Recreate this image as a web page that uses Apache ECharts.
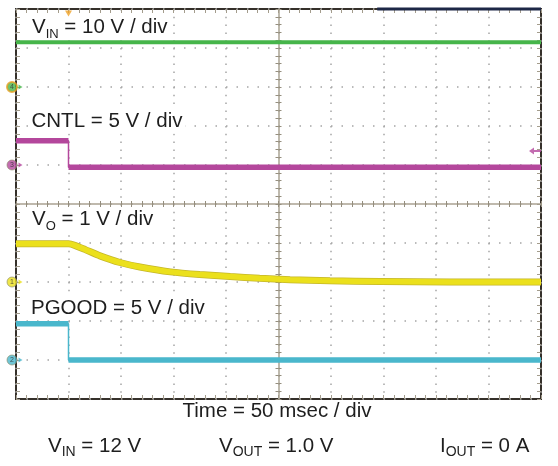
<!DOCTYPE html>
<html><head><meta charset="utf-8">
<script src="https://cdn.jsdelivr.net/npm/echarts@6/dist/echarts.min.js"></script>
<style>html,body{margin:0;padding:0;background:#fff}#c{width:558px;height:466px}</style>
</head><body><div id="c"></div>
<script>
// ---------------- data ----------------
// time axis: 50 ms / div, trigger at 0 ms, 10 divisions
const timeMin = -50, timeMax = 450, timePerDiv = 50;
// channels: order = VIN (ch4), CNTL (ch3), VO (ch1), PGOOD (ch2)
const channelNames  = ['4', '3', '1', '2'];
const channelScale  = [10, 5, 1, 5];      // V / div
const channelGround = [3, 1, -2, -4];     // ground marker, divisions from centre
const channelColors = ['#46b54a', '#b4479c', '#ebe01c', '#4ab7cc'];

const vinTime   = [-50, 450];
const vinVolts  = [11.5, 11.5];
const cntlTime  = [-50, 0, 0, 450];
const cntlVolts = [3.1, 3.1, -0.3, -0.3];
const voTime    = [-50, 0, 6, 16, 30, 49, 68, 97, 125, 154, 182, 211, 249, 297, 363, 450];
const voVolts   = [0.98, 0.98, 0.94, 0.83, 0.67, 0.50, 0.385, 0.26, 0.19, 0.14, 0.095, 0.06, 0.03, 0.015, 0.0, 0.0];
const pgoodTime  = [-50, 0, 0, 450];
const pgoodVolts = [4.65, 4.65, 0, 0];
const triggerTime = 0;
const triggerLevelVolts = 1.8;            // on CNTL
const recordBarTime = [294, 450];

const labelTexts = ['{m|V}{s|IN}{m| = 10 V / div}', '{m|CNTL = 5 V / div}', '{m|V}{s|O}{m| = 1 V / div}', '{m|PGOOD = 5 V / div}'];
const timeText = 'Time = 50 msec / div';
const footTexts = ['{m|V}{s|IN}{m| = 12 V}', '{m|V}{s|OUT}{m| = 1.0 V}', '{m|I}{s|OUT}{m| = 0 A}'];

// ---------------- helpers ----------------
const FF = '"Liberation Sans", Arial, Helvetica, sans-serif';
const TXT = '#1e1e1e';
function toDiv(ch, v) { return channelGround[ch] + v / channelScale[ch]; }
function full(times, volts, ch) { return times.map((t, i) => [t, toDiv(ch, volts[i])]); }
function thick(times, volts, ch) {
  const out = [];
  times.forEach((t, i) => {
    if (i > 0 && t === times[i - 1]) out.push([t, '-']);
    out.push([t, toDiv(ch, volts[i])]);
  });
  return out;
}
function richStyle(mainSize, subSize, pad) {
  return {
    m: { fontSize: mainSize, fontFamily: FF, fill: TXT, lineHeight: 24, verticalAlign: 'middle' },
    s: { fontSize: subSize, fontFamily: FF, fill: TXT, lineHeight: 24, verticalAlign: 'top', padding: [pad, 0, 0, 0] }
  };
}

const tickCol = '#a39c8c';
function xAx(extra) {
  return Object.assign({
    type: 'value', min: timeMin, max: timeMax, interval: timePerDiv,
    axisLabel: { show: false }, splitLine: { show: false },
    axisLine: { show: false, onZero: false },
    axisTick: { show: true, inside: true, length: 4, lineStyle: { color: tickCol, width: 1 } },
    minorTick: { show: true, splitNumber: 5, length: 4, lineStyle: { color: tickCol, width: 1 } }
  }, extra);
}
function yAx(extra) {
  return Object.assign({
    type: 'value', min: -5, max: 5, interval: 1,
    axisLabel: { show: false }, splitLine: { show: false },
    axisLine: { show: false, onZero: false },
    axisTick: { show: true, inside: true, length: 4, lineStyle: { color: tickCol, width: 1 } },
    minorTick: { show: true, splitNumber: 5, length: 4, lineStyle: { color: tickCol, width: 1 } }
  }, extra);
}
const dotCol = '#a5a5a5';

const chart = echarts.init(document.getElementById('c'), null, { renderer: 'canvas' });

const series = [];
const traces = [[vinTime, vinVolts, 0, 4], [cntlTime, cntlVolts, 1, 5.5], [voTime, voVolts, 2, 5.5], [pgoodTime, pgoodVolts, 3, 5.5]];
traces.forEach(([t, v, ch, w]) => {
  const sm = ch === 2 ? 0.2 : false;
  series.push({ type: 'line', data: full(t, v, ch), showSymbol: false, silent: true, z: 3, smooth: sm,
    lineStyle: { color: channelColors[ch], width: 1.5 } });
  if (ch === 2) {
    series.push({ type: 'line', data: thick(t, v, ch), showSymbol: false, silent: true, z: 3, connectNulls: false, smooth: sm,
      lineStyle: { color: '#c4b62a', width: w + 1.5, cap: 'butt' } });
  }
  series.push({ type: 'line', data: thick(t, v, ch), showSymbol: false, silent: true, z: 4, connectNulls: false, smooth: sm,
    lineStyle: { color: channelColors[ch], width: w, cap: 'butt' } });
});
// channel ground markers
series.push({
  type: 'scatter', clip: false, silent: true, z: 6, symbol: 'circle', symbolSize: 10, symbolOffset: [-4, 0],
  data: channelNames.map((n, ch) => ({ name: n, value: [timeMin, channelGround[ch]],
    itemStyle: { color: channelColors[ch], borderColor: ch === 0 ? '#e6a023' : '#8a8a6a', borderWidth: ch === 0 ? 2 : 0.8 } })),
  label: { show: true, position: 'inside', formatter: '{b}', fontSize: 7, color: '#333', fontFamily: FF }
});
series.push({
  type: 'scatter', clip: false, silent: true, z: 6, symbol: 'path://M0,0 L8,5 L0,10 Z', symbolSize: [4, 5], symbolOffset: [4.5, 0],
  data: channelNames.map((n, ch) => ({ value: [timeMin, channelGround[ch]], itemStyle: { color: channelColors[ch] } }))
});
// trigger position marker (top, drawn above the label backgrounds)
series.push({
  type: 'scatter', clip: false, silent: true, z: 150, symbol: 'path://M0,0 L10,0 L5,8 Z', symbolSize: [7, 6], symbolOffset: [0, 4.5],
  data: [[triggerTime, 5]], itemStyle: { color: '#efa125' }
});
// trigger level arrow (right)
series.push({
  type: 'scatter', clip: false, silent: true, z: 6,
  symbol: 'path://M0,5 L5,0 L5,3.6 L12,3.6 L12,6.4 L5,6.4 L5,10 Z', symbolSize: [12, 7], symbolOffset: [-6, 0],
  data: [[timeMax, toDiv(1, triggerLevelVolts)]], itemStyle: { color: channelColors[1] }
});
// record bar on top border
series.push({
  type: 'line', clip: false, silent: true, z: 5, showSymbol: false,
  data: recordBarTime.map(t => [t, 5]), lineStyle: { color: '#1d2746', width: 3 }
});

const gL = 16, gT = 9, gW = 525, gH = 390;
const option = {
  animation: false,
  backgroundColor: '#fff',
  grid: { left: gL, top: gT, width: gW, height: gH, show: true, borderColor: '#35302a', borderWidth: 2, backgroundColor: '#fff', outerBoundsMode: 'none' },
  xAxis: [
    xAx({ position: 'bottom', splitLine: { show: true, lineStyle: { color: dotCol, width: 1.5, type: [1.5, 6.3] } } }),
    xAx({ position: 'top' }),
    xAx({ position: 'bottom', offset: -gH / 2, axisLine: { show: true, onZero: false, lineStyle: { color: '#aaa393', width: 1.5 } },
          axisTick: { show: true, inside: true, length: 3, lineStyle: { color: '#958e7e' } },
          minorTick: { show: true, splitNumber: 5, length: 3, lineStyle: { color: '#958e7e' } } }),
    xAx({ position: 'bottom', offset: -gH / 2,
          axisTick: { show: true, inside: false, length: 3, lineStyle: { color: '#958e7e' } },
          minorTick: { show: true, splitNumber: 5, length: 3, lineStyle: { color: '#958e7e' } } })
  ],
  yAxis: [
    yAx({ position: 'left', splitLine: { show: true, lineStyle: { color: dotCol, width: 1.5, type: [1.5, 9] } } }),
    yAx({ position: 'right' }),
    yAx({ position: 'left', offset: -gW / 2, axisLine: { show: true, onZero: false, lineStyle: { color: '#aaa393', width: 1.5 } },
          axisTick: { show: true, inside: true, length: 3, lineStyle: { color: '#958e7e' } },
          minorTick: { show: true, splitNumber: 5, length: 3, lineStyle: { color: '#958e7e' } } }),
    yAx({ position: 'left', offset: -gW / 2,
          axisTick: { show: true, inside: false, length: 3, lineStyle: { color: '#958e7e' } },
          minorTick: { show: true, splitNumber: 5, length: 3, lineStyle: { color: '#958e7e' } } })
  ],
  series: series,
  graphic: [
    { type: 'text', x: 29, y: 15, z: 100, style: { text: labelTexts[0], rich: richStyle(20.5, 13, 12.5), backgroundColor: '#fff', padding: [0, 3] } },
    { type: 'text', x: 28.5, y: 109.5, z: 100, style: { text: labelTexts[1], rich: richStyle(20.5, 13, 12.5), backgroundColor: '#fff', padding: [0, 3] } },
    { type: 'text', x: 29, y: 207.5, z: 100, style: { text: labelTexts[2], rich: richStyle(20.5, 13, 12.5), backgroundColor: '#fff', padding: [0, 3] } },
    { type: 'text', x: 28, y: 296, z: 100, style: { text: labelTexts[3], rich: richStyle(20.5, 13, 12.5), backgroundColor: '#fff', padding: [0, 3] } },
    { type: 'text', x: 277, y: 399.5, z: 100, style: { text: timeText, fontSize: 20.5, fontFamily: FF, fill: TXT, lineHeight: 24, align: 'center', verticalAlign: 'top' } },
    { type: 'text', x: 48, y: 434, z: 100, style: { text: footTexts[0], rich: richStyle(20.5, 14, 11) } },
    { type: 'text', x: 219, y: 434, z: 100, style: { text: footTexts[1], rich: richStyle(20.5, 14, 11) } },
    { type: 'text', x: 440, y: 434, z: 100, style: { text: footTexts[2], rich: richStyle(20.5, 14, 11) } }
  ]
};
chart.setOption(option);
</script></body></html>
